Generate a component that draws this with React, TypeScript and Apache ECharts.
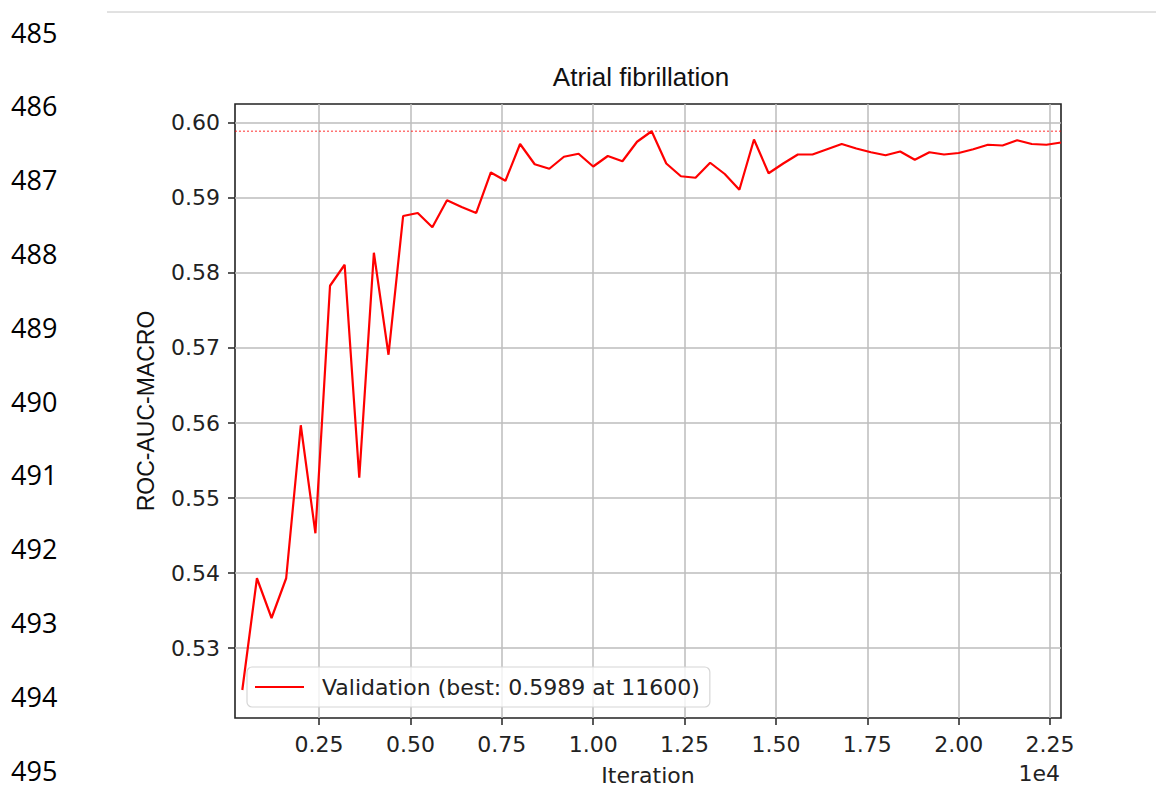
import React, { useEffect, useRef } from "react";
import * as echarts from "echarts";

const lineNumbers = ["485", "486", "487", "488", "489", "490", "491", "492", "493", "494", "495"];

const iterations = [
  400, 800, 1200, 1600, 2000, 2400, 2800, 3200, 3600, 4000,
  4400, 4800, 5200, 5600, 6000, 6400, 6800, 7200, 7600, 8000,
  8400, 8800, 9200, 9600, 10000, 10400, 10800, 11200, 11600, 12000,
  12400, 12800, 13200, 13600, 14000, 14400, 14800, 15200, 15600, 16000,
  16400, 16800, 17200, 17600, 18000, 18400, 18800, 19200, 19600, 20000,
  20400, 20800, 21200, 21600, 22000, 22400, 22800,
];

const rocAucMacro = [
  0.5244, 0.5393, 0.534, 0.5393, 0.5597, 0.5453, 0.5783, 0.5811, 0.5527, 0.5827,
  0.5691, 0.5876, 0.588, 0.5861, 0.5897, 0.5888, 0.588, 0.5934, 0.5923, 0.5972,
  0.5945, 0.5939, 0.5955, 0.5959, 0.5942, 0.5956, 0.5949, 0.5975, 0.5989, 0.5946,
  0.5929, 0.5927, 0.5947, 0.5932, 0.5911, 0.5978, 0.5933, 0.5946, 0.5958, 0.5958,
  0.5965, 0.5972, 0.5966, 0.5961, 0.5957, 0.5962, 0.5951, 0.5961, 0.5958, 0.596,
  0.5965, 0.5971, 0.597, 0.5977, 0.5972, 0.5971, 0.5974,
];

const xTicks = [2500, 5000, 7500, 10000, 12500, 15000, 17500, 20000, 22500];
const yTicks = [0.53, 0.54, 0.55, 0.56, 0.57, 0.58, 0.59, 0.6];
const xRange = [200, 22800];
const yRange = [0.520667, 0.602533];

const bestValue = 0.5989;
const bestIteration = 11600;

const titleText = "Atrial fibrillation";
const xName = "Iteration";
const yName = "ROC-AUC-MACRO";
const xOffsetText = "1e4";

export default function App() {
  const ref = useRef<HTMLDivElement>(null);

  useEffect(() => {
    if (!ref.current) return;
    const chart = echarts.init(ref.current, null, { renderer: "svg" });
    const seriesName = `Validation (best: ${bestValue.toFixed(4)} at ${bestIteration})`;
    const mplFont = "'DejaVu Sans', sans-serif";
    const axisText = "#222";

    const graphics: any[] = [
      {
        type: "line",
        shape: { x1: 107, y1: 12, x2: 1156, y2: 12 },
        style: { stroke: "#c4c4c4", lineWidth: 1 },
        silent: true,
      },
      ...lineNumbers.map((t, i) => ({
        type: "text",
        x: 11,
        y: 32 + i * 73.8,
        style: {
          text: t,
          fill: "#000",
          font: "27px 'Open Sans', sans-serif",
          textAlign: "left",
          textVerticalAlign: "middle",
        },
        silent: true,
      })),
      {
        type: "text",
        x: 1060,
        y: 773,
        style: {
          text: xOffsetText,
          fill: axisText,
          font: `22px ${mplFont}`,
          textAlign: "right",
          textVerticalAlign: "middle",
        },
        silent: true,
      },
    ];

    chart.setOption({
      animation: false,
      backgroundColor: "#fff",
      title: {
        text: titleText,
        left: 636,
        top: 59,
        textAlign: "center",
        textStyle: {
          fontFamily: "'Liberation Sans', Arial, sans-serif",
          fontSize: 26,
          fontWeight: "normal",
          color: "#111",
          lineHeight: 26,
        },
      },
      grid: {
        left: 235,
        right: 95,
        top: 104,
        bottom: 78,
        show: true,
        borderColor: "#222",
        borderWidth: 1.6,
        backgroundColor: "transparent",
        containLabel: false,
      },
      legend: {
        left: 247,
        top: 667,
        orient: "horizontal",
        icon: "rect",
        itemWidth: 49,
        itemHeight: 2,
        padding: [9, 10, 9, 8],
        backgroundColor: "rgba(255,255,255,0.8)",
        borderColor: "#d6d6d6",
        borderWidth: 1.2,
        borderRadius: 5,
        selectedMode: false,
        textStyle: {
          fontFamily: mplFont,
          fontSize: 22,
          lineHeight: 22,
          color: axisText,
          padding: [0, 0, 0, 13],
        },
        data: [seriesName],
      },
      xAxis: {
        type: "value",
        min: xRange[0],
        max: xRange[1],
        name: xName,
        nameLocation: "middle",
        nameGap: 46,
        nameTextStyle: { fontFamily: mplFont, fontSize: 22, lineHeight: 22, color: axisText },
        axisLine: { show: false },
        axisTick: {
          show: true,
          customValues: xTicks,
          length: 7,
          lineStyle: { color: "#222", width: 1.5 },
        },
        axisLabel: {
          customValues: xTicks,
          margin: 15,
          fontFamily: mplFont,
          fontSize: 22,
          lineHeight: 22,
          color: axisText,
          formatter: (v: number) => (v / 10000).toFixed(2),
        },
        splitLine: { show: true, lineStyle: { color: "#bdbdbd", width: 1.5 } },
      },
      yAxis: {
        type: "value",
        min: yRange[0],
        max: yRange[1],
        name: yName,
        nameLocation: "middle",
        nameRotate: 90,
        nameGap: 78,
        nameTextStyle: {
          fontFamily: "'Liberation Sans', Arial, sans-serif",
          fontSize: 23,
          lineHeight: 23,
          color: "#111",
        },
        axisLine: { show: false },
        axisTick: {
          show: true,
          customValues: yTicks,
          length: 7,
          lineStyle: { color: "#222", width: 1.5 },
        },
        axisLabel: {
          customValues: yTicks,
          margin: 15,
          fontFamily: mplFont,
          fontSize: 22,
          color: axisText,
          formatter: (v: number) => v.toFixed(2),
        },
        splitLine: { show: true, lineStyle: { color: "#bdbdbd", width: 1.5 } },
      },
      series: [
        {
          name: "best",
          type: "line",
          data: [
            [xRange[0], bestValue],
            [xRange[1], bestValue],
          ],
          showSymbol: false,
          symbol: "none",
          silent: true,
          lineStyle: { color: "rgba(255,0,0,0.55)", type: [2, 2], width: 1.5 },
          z: 2,
        },
        {
          name: seriesName,
          type: "line",
          data: iterations.map((it, i) => [it, rocAucMacro[i]]),
          showSymbol: false,
          symbol: "none",
          lineStyle: { color: "#ff0000", width: 2.2 },
          itemStyle: { color: "#ff0000" },
          z: 3,
        },
      ],
      graphic: graphics,
    });

    return () => chart.dispose();
  }, []);

  return (
    <div
      ref={ref}
      style={{ position: "absolute", left: 0, top: 0, width: 1156, height: 796 }}
    />
  );
}
